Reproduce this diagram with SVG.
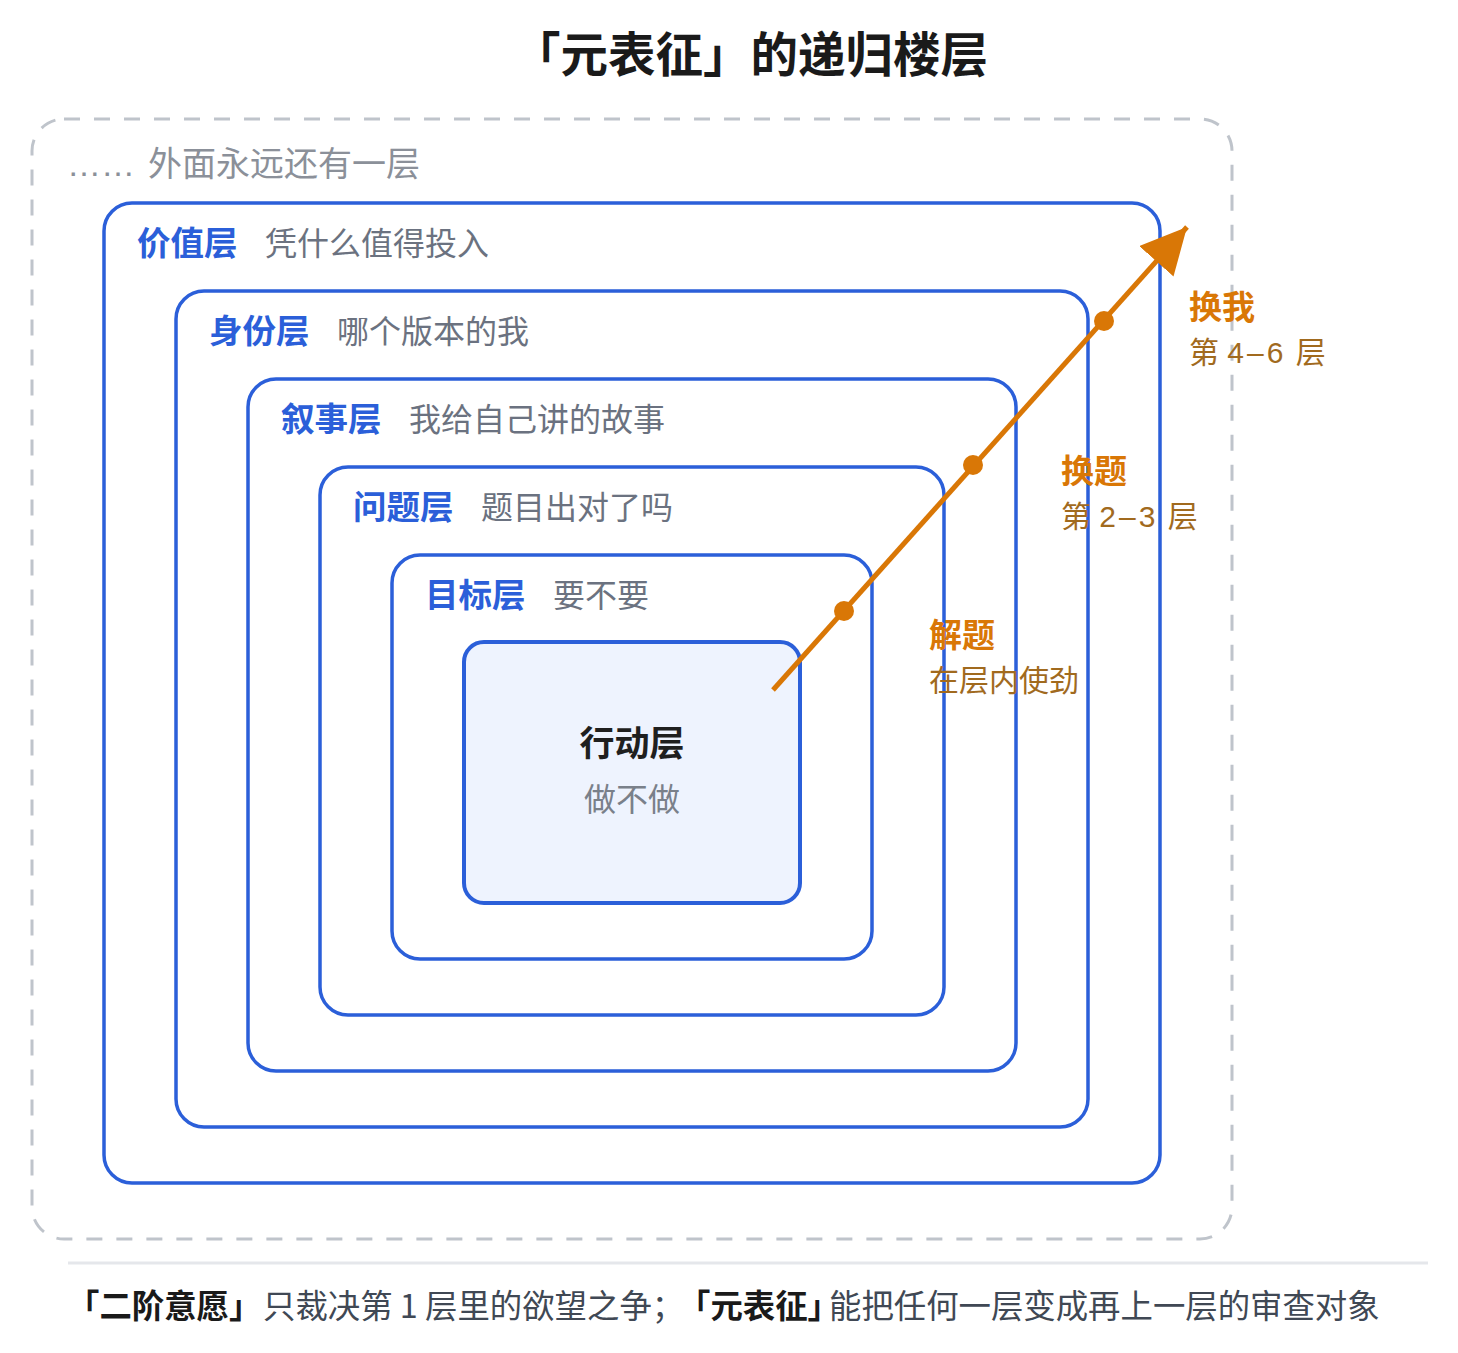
<svg xmlns="http://www.w3.org/2000/svg" width="1458" height="1353" viewBox="0 0 1458 1353">
  <style>
    text { font-family: "Noto Sans CJK SC", "Noto Sans", sans-serif; }
    .title { font-size: 47.5px; font-weight: 700; fill: #1a1a1a; }
    .box { fill: none; stroke: #2b5fd9; stroke-width: 3.5; }
    .core { fill: #eef3fe; stroke: #2b5fd9; stroke-width: 4; }
    .outer { fill: none; stroke: #bfc4cb; stroke-width: 3; stroke-dasharray: 16 14; }
    .name { font-size: 33.5px; font-weight: 700; fill: #2b5fd9; }
    .desc { font-size: 32px; fill: #6b7280; }
    .outer-label { font-size: 34px; fill: #8b9099; }
    .core-name { font-size: 35px; font-weight: 700; fill: #1f1f1f; }
    .core-desc { font-size: 32px; fill: #7a808a; }
    .move { font-size: 33px; font-weight: 700; fill: #d97706; }
    .move-sub { font-size: 30px; fill: #a16a1e; font-family: "Liberation Sans", "Noto Sans CJK SC", sans-serif; }
    .cap { font-size: 32.4px; fill: #404854; }
    .cap-b { font-weight: 700; fill: #1a1a1a; }
    .path { stroke: #d97706; stroke-width: 5; fill: none; }
    .dot { fill: #d97706; }
  </style>
  <defs>
    <marker id="head" markerUnits="userSpaceOnUse" markerWidth="46" markerHeight="46" viewBox="0 0 46 46" refX="46" refY="23" orient="auto">
      <path d="M0,0 L46,23 L0,46 Z" fill="#d97706"/>
    </marker>
  </defs>

  <text class="title" x="513" y="72">「元表征」的递归楼层</text>

  <g id="layer-outer">
    <rect class="outer" x="32" y="119" width="1200" height="1120" rx="32"/>
    <text class="outer-label" y="176"><tspan x="67" font-family="Liberation Sans, sans-serif">……</tspan><tspan x="148">外面永远还有一层</tspan></text>
  </g>

  <g id="layer-value">
    <rect class="box" x="104" y="203" width="1056" height="980" rx="28"/>
    <text class="name" x="137" y="255">价值层</text>
    <text class="desc" x="265" y="255">凭什么值得投入</text>
  </g>

  <g id="layer-identity">
    <rect class="box" x="176" y="291" width="912" height="836" rx="28"/>
    <text class="name" x="209" y="343">身份层</text>
    <text class="desc" x="337" y="343">哪个版本的我</text>
  </g>

  <g id="layer-narrative">
    <rect class="box" x="248" y="379" width="768" height="692" rx="28"/>
    <text class="name" x="281" y="431">叙事层</text>
    <text class="desc" x="409" y="431">我给自己讲的故事</text>
  </g>

  <g id="layer-problem">
    <rect class="box" x="320" y="467" width="624" height="548" rx="28"/>
    <text class="name" x="353" y="519">问题层</text>
    <text class="desc" x="481" y="519">题目出对了吗</text>
  </g>

  <g id="layer-goal">
    <rect class="box" x="392" y="555" width="480" height="404" rx="28"/>
    <text class="name" x="425" y="607">目标层</text>
    <text class="desc" x="553" y="607">要不要</text>
  </g>

  <g id="layer-action">
    <rect class="core" x="464" y="642" width="336" height="261" rx="20"/>
    <text class="core-name" x="632" y="756" text-anchor="middle">行动层</text>
    <text class="core-desc" x="632" y="811" text-anchor="middle">做不做</text>
  </g>

  <g id="connectors">
    <line class="path" x1="773" y1="690" x2="1187" y2="227" marker-end="url(#head)"/>
    <circle class="dot" cx="844" cy="611" r="10"/>
    <circle class="dot" cx="973" cy="465" r="10"/>
    <circle class="dot" cx="1104" cy="321" r="10"/>
  </g>

  <g id="move-solve">
    <text class="move" x="929" y="647">解题</text>
    <text class="move-sub" x="929" y="691">在层内使劲</text>
  </g>
  <g id="move-reframe">
    <text class="move" x="1061" y="483">换题</text>
    <text class="move-sub" x="1061" y="527">第 2<tspan dx="3">–</tspan><tspan dx="3">3</tspan><tspan dx="4"> 层</tspan></text>
  </g>
  <g id="move-self">
    <text class="move" x="1189" y="319">换我</text>
    <text class="move-sub" x="1189" y="363">第 4<tspan dx="3">–</tspan><tspan dx="3">6</tspan><tspan dx="4"> 层</tspan></text>
  </g>

  <g id="caption">
    <line x1="68" y1="1263" x2="1428" y2="1263" stroke="#e5e7eb" stroke-width="3"/>
    <text class="cap" y="1318"><tspan class="cap-b" x="67">「二阶意愿」</tspan><tspan x="263">只裁决第 1 层里的欲望之争；</tspan><tspan class="cap-b" x="678">「元表征」</tspan><tspan x="829">能把任何一层变成再上一层的审查对象</tspan></text>
  </g>
</svg>
